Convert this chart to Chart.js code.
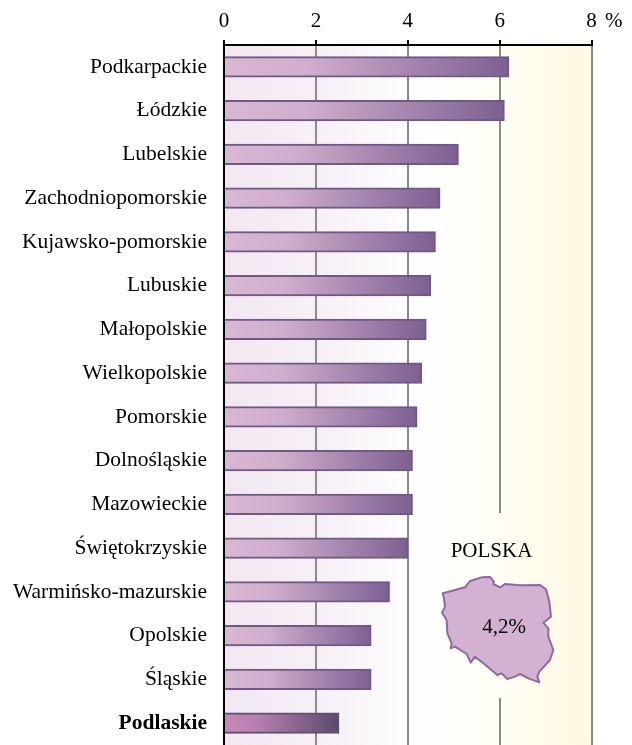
<!DOCTYPE html>
<html><head><meta charset="utf-8">
<style>html,body{margin:0;padding:0;background:#fff}canvas{display:block}</style>
<script src="https://cdn.jsdelivr.net/npm/chart.js@4"></script>
</head><body><canvas id="c" width="632" height="745"></canvas>
<script>
const categories = ["Podkarpackie","Łódzkie","Lubelskie","Zachodniopomorskie","Kujawsko-pomorskie","Lubuskie","Małopolskie","Wielkopolskie","Pomorskie","Dolnośląskie","Mazowieckie","Świętokrzyskie","Warmińsko-mazurskie","Opolskie","Śląskie","Podlaskie"];
const values = [6.2,6.1,5.1,4.7,4.6,4.5,4.4,4.3,4.2,4.1,4.1,4.0,3.6,3.2,3.2,2.5];
const highlight = "Podlaskie";
const tickStep = 2, axisMax = 8;
const unitLabel = "%";
const nationalName = "POLSKA", nationalValue = "4,2%";
const FONT = '"Liberation Serif"';
const FS = 21;
// map outline (decorative inset), pixels in the canvas
const mapOutline = [[68,280],[75,278],[135,262],[150,243],[185,232],[210,231],[222,245],[220,252],[240,262],[255,252],[300,256],[360,255],[378,268],[388,305],[393,350],[370,368],[385,385],[385,410],[400,450],[390,480],[358,515],[352,530],[358,547],[325,535],[300,522],[285,530],[262,537],[245,520],[232,525],[190,490],[165,470],[152,488],[140,462],[105,440],[92,445],[95,430],[82,400],[80,360],[66,338],[75,320],[72,295]].map(p=>[420+p[0]/3,500+p[1]/3]);

function bgGradient(ctx,a){
  const g=ctx.createLinearGradient(a.left,0,a.right,0);
  g.addColorStop(0,"#f3e7f1");g.addColorStop(0.25,"#f6f0f6");g.addColorStop(0.55,"#fffeff");g.addColorStop(0.75,"#fffef4");g.addColorStop(1,"#fff8df");
  return g;
}
const decor={id:"decor",
  beforeDraw(chart){const {ctx,chartArea:a}=chart;ctx.save();ctx.fillStyle=bgGradient(ctx,a);ctx.fillRect(a.left,a.top,a.right-a.left,a.bottom-a.top);ctx.restore();},
  beforeDatasetsDraw(chart){const {ctx,chartArea:a}=chart;
    ctx.save();ctx.fillStyle=bgGradient(ctx,a);ctx.fillRect(440,513,120,185);
    ctx.beginPath();mapOutline.forEach((p,i)=>i?ctx.lineTo(p[0],p[1]):ctx.moveTo(p[0],p[1]));ctx.closePath();
    ctx.fillStyle="#d3b1d0";ctx.fill();ctx.lineJoin="round";ctx.lineWidth=2;ctx.strokeStyle="#8d6ba0";ctx.stroke();
    ctx.fillStyle="#000";ctx.font=FS+"px "+FONT;ctx.textAlign="center";ctx.textBaseline="alphabetic";
    ctx.fillText(nationalName,491.5,557);ctx.fillText(nationalValue,504,633);
    ctx.restore();},
  afterDraw(chart){const {ctx}=chart;ctx.save();ctx.fillStyle="#000";ctx.font=FS+"px "+FONT;ctx.textAlign="left";ctx.textBaseline="alphabetic";ctx.fillText(unitLabel,605,27);ctx.restore();}
};
function barFill(c){
  const chart=c.chart;
  if(!chart.chartArea||c.type!=="data")return "#a98ab0";
  const x=chart.scales.x, hl=categories[c.dataIndex]===highlight;
  const g=chart.ctx.createLinearGradient(x.getPixelForValue(0),0,x.getPixelForValue(values[c.dataIndex]),0);
  if(hl){g.addColorStop(0,"#c68ab8");g.addColorStop(0.3,"#b57fae");g.addColorStop(1,"#5b4a6e");}
  else{g.addColorStop(0,"#d9b8d4");g.addColorStop(0.3,"#cfadcc");g.addColorStop(1,"#7d5f92");}
  return g;
}
new Chart(document.getElementById("c"),{
  type:"bar",plugins:[decor],
  data:{labels:categories,datasets:[{data:values,backgroundColor:barFill,
    borderColor:c=>categories[c.dataIndex]===highlight?"#5f5070":"#6f5a85",borderWidth:2,borderSkipped:"left",inflateAmount:0.5,barPercentage:0.46,categoryPercentage:1}]},
  options:{indexAxis:"y",responsive:false,animation:false,
    layout:{autoPadding:false,padding:{left:0,right:40.5,top:0,bottom:-1}},
    plugins:{legend:{display:false},tooltip:{enabled:false}},
    scales:{
      x:{position:"top",min:0,max:axisMax,afterFit(s){s.height=45;},
        ticks:{stepSize:tickStep,color:"#000",font:{family:FONT,size:FS},padding:6,maxRotation:0},
        grid:{color:c=>c.index===0?"rgba(0,0,0,0)":"#8a8a8a",lineWidth:2,tickColor:"#000",tickLength:5,tickWidth:2,drawTicks:true},
        border:{color:"#000",width:2}},
      y:{afterFit(s){s.width=224;s.paddingTop=0;s.paddingBottom=0;},
        ticks:{color:"#000",padding:17,autoSkip:false,
          font:c=>({family:FONT,size:21.5,weight:categories[c.index]===highlight?"bold":"normal"})},
        grid:{display:false,drawTicks:false},
        border:{color:"#000",width:2,z:1}}
    }}
});
</script></body></html>
